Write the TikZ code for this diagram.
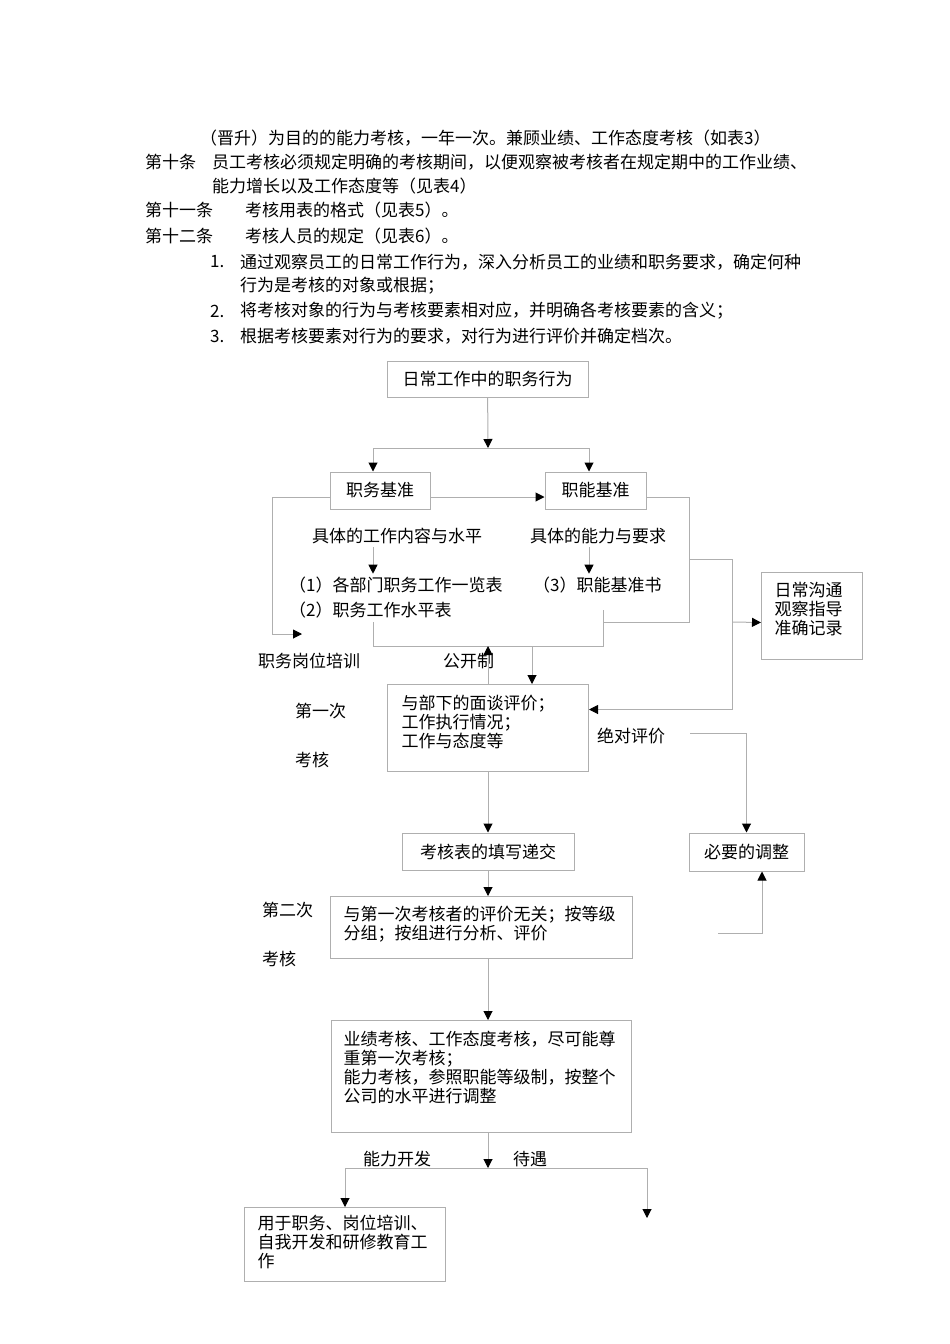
\documentclass[tikz,border=0pt]{standalone}
\usepackage{fontspec}
\setmainfont{Noto Sans CJK SC}
\usetikzlibrary{arrows.meta,positioning,calc}
\definecolor{linegray}{RGB}{175,175,175}
\tikzset{
    block/.style = {draw=linegray, line width=1pt, rectangle, inner sep=0pt, align=center},
    tbox/.style = {draw=linegray, line width=1pt, rectangle, anchor=north west,
        align=left, inner ysep=0pt},
    txt/.style = {anchor=west, inner xsep=0pt, inner ysep=3pt},
    conn/.style = {draw=linegray, line width=1pt},
    arrow/.style = {conn, -{Triangle[width=9pt,length=9pt,color=black]}}
}

\begin{document}
\begin{tikzpicture}[x=1pt, y=-1pt, font=\fontsize{17}{19}\selectfont]
    \useasboundingbox (0,0) rectangle (950,1344);
    % text above the chart
    \node [txt] (p1) at (200,138) {（晋升）为目的的能力考核，一年一次。兼顾业绩、工作态度考核（如表3）};
    \node [txt] (a10) at (145,162) {第十条};
    \node [txt] (p2) at (212,162) {员工考核必须规定明确的考核期间，以便观察被考核者在规定期中的工作业绩、};
    \node [txt] (p3) at (212,186) {能力增长以及工作态度等（见表4）};
    \node [txt] (a11) at (145,210) {第十一条};
    \node [txt] (p4) at (245,210) {考核用表的格式（见表5）。};
    \node [txt] (a12) at (145,236) {第十二条};
    \node [txt] (p5) at (245,236) {考核人员的规定（见表6）。};
    \node [txt] (n1) at (210,262) {1.};
    \node [txt] (p6) at (240,262) {通过观察员工的日常工作行为，深入分析员工的业绩和职务要求，确定何种};
    \node [txt] (p7) at (240,286) {行为是考核的对象或根据；};
    \node [txt] (n2) at (210,311) {2.};
    \node [txt] (p8) at (240,311) {将考核对象的行为与考核要素相对应，并明确各考核要素的含义；};
    \node [txt] (n3) at (210,336) {3.};
    \node [txt] (p9) at (240,336) {根据考核要素对行为的要求，对行为进行评价并确定档次。};

    % boxes
    \node [block, minimum width=201pt, minimum height=36pt] (daily) at (487.5,379) {日常工作中的职务行为};
    \node [block, minimum width=100pt, minimum height=37pt] (jobstd) at (380,490.5) {职务基准};
    \node [block, minimum width=101pt, minimum height=37pt] (abilstd) at (595.5,490.5) {职能基准};
    \node [tbox, text width=75pt, inner xsep=13pt, text height=23.5pt, text depth=63.5pt] (comm) at (761,572) {日常沟通\\观察指导\\准确记录};
    \node [tbox, text width=173pt, inner xsep=14pt, text height=24.5pt, text depth=62.5pt] (exam1) at (387,684) {与部下的面谈评价；\\工作执行情况；\\工作与态度等};
    \node [block, minimum width=172pt, minimum height=37pt] (fillin) at (488,851.5) {考核表的填写递交};
    \node [block, minimum width=115pt, minimum height=38pt] (adjust) at (746.5,852) {必要的调整};
    \node [tbox, text width=276pt, inner xsep=13pt, text height=23.5pt, text depth=38.5pt] (exam2) at (330,896) {与第一次考核者的评价无关；按等级\\分组；按组进行分析、评价};
    \node [tbox, text width=276pt, inner xsep=12pt, text height=24.5pt, text depth=87.5pt] (exam3) at (331,1020) {业绩考核、工作态度考核，尽可能尊\\重第一次考核；\\能力考核，参照职能等级制，按整个\\公司的水平进行调整};
    \node [tbox, text width=175pt, inner xsep=13pt, text height=21.5pt, text depth=52.5pt] (train) at (244,1207) {用于职务、岗位培训、\\自我开发和研修教育工\\作};

    % free labels
    \node [txt] (spec1) at (312,536) {具体的工作内容与水平};
    \node [txt] (spec2) at (530,536) {具体的能力与要求};
    \node [txt] (list1) at (289,585) {（1）各部门职务工作一览表};
    \node [txt] (list2) at (289,610) {（2）职务工作水平表};
    \node [txt] (list3) at (533,585) {（3）职能基准书};
    \node [txt] (trainlbl) at (258,661) {职务岗位培训};
    \node [txt] (public) at (443,661) {公开制};
    \node [txt] (first1) at (295,711) {第一次};
    \node [txt] (first2) at (295,760) {考核};
    \node [txt] (absolute) at (597,736) {绝对评价};
    \node [txt] (second1) at (262,910) {第二次};
    \node [txt] (second2) at (262,959) {考核};
    \node [txt] (dev) at (363,1159) {能力开发};
    \node [txt] (pay) at (513,1159) {待遇};

    % junctions
    \coordinate (split) at (488,448);
    \coordinate (lsplit) at (373,448);
    \coordinate (rsplit) at (589,448);
    \coordinate (trainpt) at (302,634);
    \coordinate (jobend) at (373,622);
    \coordinate (abilend) at (603,610);
    \coordinate (meet) at (488,646);
    \coordinate (pubdown) at (532,646);
    \coordinate (rbranch) at (689,559);
    \coordinate (commin) at (732,622);
    \coordinate (abspt) at (690,733);
    \coordinate (adjback) at (718,933);
    \coordinate (split2) at (488,1168);
    \coordinate (devpt) at (345,1168);
    \coordinate (paypt) at (647,1168);
    \coordinate (payend) at (647,1218);

    % connectors
    \draw [arrow] (daily) -- (split);
    \draw [conn] (lsplit) -- (rsplit);
    \draw [arrow] (lsplit) -- (lsplit |- jobstd.north);
    \draw [arrow] (rsplit) -- (rsplit |- abilstd.north);
    \draw [arrow] ([yshift=-6.5pt]jobstd.east) -- ([yshift=-6.5pt]abilstd.west);
    \draw [arrow] ([yshift=-6.5pt]jobstd.west) -- ++(-57,0) |- (trainpt);
    \draw [arrow] (spec1.south -| lsplit) -- (lsplit |- list1.north);
    \draw [arrow] (spec2.south -| rsplit) -- (rsplit |- list3.north);
    \draw [conn] ([yshift=-6.5pt]abilstd.east) -- ++(43,0) |- (abilend |- jobend);
    \draw [conn] (jobend) |- (abilend |- meet) -- (abilend);
    \draw [arrow] (exam1.north -| meet) -- (meet);
    \draw [arrow] (pubdown) -- (pubdown |- exam1.north);
    \draw [arrow] (rbranch) -- ++(43,0) |- ([yshift=18.5pt]exam1.east);
    \draw [arrow] (commin) -- ([yshift=-6.5pt]comm.west);
    \draw [arrow] (abspt) -| (adjust.north);
    \draw [arrow] (adjback) -| ([xshift=15.5pt]adjust.south);
    \draw [arrow] (exam1.south -| fillin.north) -- (fillin);
    \draw [arrow] (fillin.south) -- (fillin.south |- exam2.north);
    \draw [arrow] (fillin.south |- exam2.south) -- (fillin.south |- exam3.north);
    \draw [arrow] (fillin.south |- exam3.south) -- (split2);
    \draw [conn] (devpt) -- (paypt);
    \draw [arrow] (devpt) -- (devpt |- train.north);
    \draw [arrow] (paypt) -- (payend);
\end{tikzpicture}
\end{document}
